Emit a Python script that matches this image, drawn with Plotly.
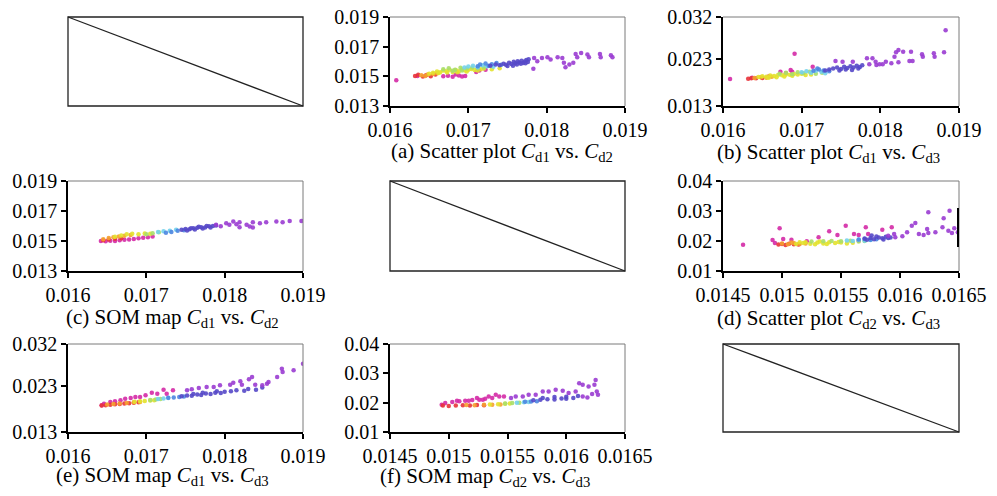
import plotly.graph_objects as go

# ---------------- DATA ----------------
GROUPS = ["magenta", "red", "orange", "yellow", "green", "cyan", "blue", "violet", "purple"]

# (a) Scatter plot Cd1 vs Cd2
a_x = {
    "magenta": [0.01608, 0.01635, 0.01668, 0.01674, 0.01680, 0.01688, 0.01692, 0.01696, 0.01684, 0.01714, 0.01722, 0.01710],
    "red": [0.01632, 0.01636, 0.01642, 0.01646, 0.01652, 0.01658],
    "orange": [0.01640, 0.01648, 0.01655, 0.01660, 0.01645],
    "yellow": [0.01650, 0.01655, 0.01660, 0.01664, 0.01668, 0.01672, 0.01676, 0.01680, 0.01684, 0.01688, 0.01692, 0.01696,
               0.01700, 0.01704, 0.01708, 0.01712, 0.01716, 0.01720, 0.01662, 0.01673, 0.01686, 0.01698, 0.01730, 0.01740],
    "green": [0.01668, 0.01675, 0.01683, 0.01690, 0.01698, 0.01705, 0.01712, 0.01720, 0.01680, 0.01692],
    "cyan": [0.01700, 0.01706, 0.01712, 0.01718, 0.01724, 0.01732, 0.01695],
    "blue": [0.01715, 0.01722, 0.01730, 0.01736, 0.01742, 0.01712, 0.01726],
    "violet": [0.01740, 0.01745, 0.01748, 0.01752, 0.01755, 0.01758, 0.01760, 0.01763, 0.01765, 0.01768, 0.01770, 0.01772,
               0.01774, 0.01776, 0.01750, 0.01757, 0.01762, 0.01767, 0.01773, 0.01735, 0.01728, 0.01777],
    "purple": [0.01784, 0.01788, 0.01794, 0.01801, 0.01805, 0.01814, 0.01820, 0.01822, 0.01824, 0.01829, 0.01834, 0.01837,
               0.01839, 0.01844, 0.01852, 0.01854, 0.01868, 0.01869, 0.01882, 0.01884, 0.01783],
}
a_y = {
    "magenta": [0.01473, 0.01502, 0.01500, 0.01504, 0.01498, 0.01505, 0.01499, 0.01503, 0.01512, 0.01540, 0.01545, 0.01530],
    "red": [0.01503, 0.01510, 0.01499, 0.01508, 0.01500, 0.01512],
    "orange": [0.01508, 0.01512, 0.01515, 0.01520, 0.01502],
    "yellow": [0.01518, 0.01525, 0.01532, 0.01528, 0.01540, 0.01535, 0.01545, 0.01530, 0.01542, 0.01535, 0.01548, 0.01540,
               0.01545, 0.01550, 0.01542, 0.01540, 0.01548, 0.01552, 0.01522, 0.01526, 0.01528, 0.01532, 0.01548, 0.01555],
    "green": [0.01548, 0.01555, 0.01545, 0.01558, 0.01552, 0.01560, 0.01555, 0.01562, 0.01538, 0.01540],
    "cyan": [0.01566, 0.01572, 0.01562, 0.01575, 0.01568, 0.01565, 0.01560],
    "blue": [0.01580, 0.01586, 0.01582, 0.01590, 0.01578, 0.01568, 0.01572],
    "violet": [0.01575, 0.01585, 0.01578, 0.01592, 0.01583, 0.01598, 0.01588, 0.01602, 0.01594, 0.01605, 0.01590, 0.01600,
               0.01610, 0.01596, 0.01570, 0.01572, 0.01580, 0.01585, 0.01588, 0.01580, 0.01572, 0.01615],
    "purple": [0.01624, 0.01602, 0.01624, 0.01629, 0.01613, 0.01629, 0.01624, 0.01591, 0.01562, 0.01580, 0.01591, 0.01651,
               0.01629, 0.01657, 0.01647, 0.01629, 0.01651, 0.01629, 0.01642, 0.01629, 0.01551],
}

# (b) Scatter plot Cd1 vs Cd3
b_x = {
    "magenta": [0.01609, 0.01691, 0.01714, 0.01673, 0.01686, 0.01688, 0.01637],
    "red": [0.01632, 0.01636, 0.01642, 0.01650, 0.01658, 0.01680],
    "orange": [0.01640, 0.01648, 0.01655, 0.01662],
    "yellow": [0.01645, 0.01650, 0.01655, 0.01660, 0.01665, 0.01670, 0.01675, 0.01680, 0.01685, 0.01690, 0.01695, 0.01700,
               0.01658, 0.01668, 0.01678, 0.01688, 0.01705, 0.01712],
    "green": [0.01672, 0.01680, 0.01688, 0.01695, 0.01702, 0.01710, 0.01718, 0.01726],
    "cyan": [0.01700, 0.01706, 0.01712, 0.01718, 0.01725, 0.01730],
    "blue": [0.01715, 0.01722, 0.01728, 0.01735, 0.01720],
    "violet": [0.01740, 0.01745, 0.01750, 0.01754, 0.01758, 0.01762, 0.01766, 0.01770, 0.01774, 0.01777, 0.01748, 0.01756,
               0.01764, 0.01772, 0.01735, 0.01730],
    "purple": [0.01883, 0.01881, 0.01868, 0.01869, 0.01853, 0.01854, 0.01839, 0.01837, 0.01841, 0.01823, 0.01829, 0.01818,
               0.01820, 0.01823, 0.01814, 0.01807, 0.01803, 0.01790, 0.01783, 0.01794, 0.01795, 0.01799, 0.01786, 0.01765,
               0.01752, 0.01743],
}
b_y = {
    "magenta": [0.01876, 0.02417, 0.02139, 0.02033, 0.02068, 0.02033, 0.01905],
    "red": [0.01880, 0.01890, 0.01895, 0.01900, 0.01930, 0.02000],
    "orange": [0.01900, 0.01915, 0.01905, 0.01925],
    "yellow": [0.01920, 0.01935, 0.01925, 0.01950, 0.01940, 0.01960, 0.01955, 0.01975, 0.01965, 0.01985, 0.01970, 0.01990,
               0.01905, 0.01915, 0.01930, 0.01945, 0.01960, 0.01975],
    "green": [0.01990, 0.02010, 0.01980, 0.02020, 0.02000, 0.02030, 0.01990, 0.02010],
    "cyan": [0.02020, 0.02040, 0.02010, 0.02050, 0.02030, 0.02000],
    "blue": [0.02050, 0.02080, 0.02060, 0.02040, 0.02100],
    "violet": [0.02100, 0.02120, 0.02090, 0.02140, 0.02110, 0.02150, 0.02120, 0.02160, 0.02130, 0.02170, 0.02060, 0.02080,
               0.02070, 0.02100, 0.02080, 0.02060],
    "purple": [0.02915, 0.02446, 0.02424, 0.02353, 0.02403, 0.02353, 0.02460, 0.02260, 0.02260, 0.02496, 0.02460, 0.02353,
               0.02446, 0.02232, 0.02211, 0.02246, 0.02190, 0.02318, 0.02318, 0.02246, 0.02175, 0.02190, 0.02190, 0.02246,
               0.02246, 0.02261],
}

# (c) SOM map Cd1 vs Cd2
c_x = {
    "magenta": [0.01642, 0.01648, 0.01654, 0.01660, 0.01666, 0.01672, 0.01678, 0.01684, 0.01690, 0.01696, 0.01702, 0.01708],
    "red": [0.01645, 0.01652, 0.01660, 0.01668],
    "orange": [0.01645, 0.01652, 0.01658, 0.01665, 0.01672, 0.01680],
    "yellow": [0.01660, 0.01668, 0.01675, 0.01682, 0.01690, 0.01698, 0.01705],
    "green": [0.01700, 0.01708, 0.01716],
    "cyan": [0.01715, 0.01722, 0.01730, 0.01738],
    "blue": [0.01725, 0.01732, 0.01740, 0.01748],
    "violet": [0.01745, 0.01750, 0.01755, 0.01760, 0.01765, 0.01770, 0.01775, 0.01780, 0.01785, 0.01789, 0.01752, 0.01762,
               0.01772, 0.01782, 0.01757, 0.01767, 0.01777],
    "purple": [0.01789, 0.01802, 0.01806, 0.01811, 0.01815, 0.01819, 0.01828, 0.01832, 0.01836, 0.01845, 0.01853, 0.01866,
               0.01874, 0.01883, 0.01898, 0.01836, 0.01819, 0.01795],
}
c_y = {
    "magenta": [0.01500, 0.01498, 0.01502, 0.01500, 0.01505, 0.01508, 0.01510, 0.01514, 0.01518, 0.01522, 0.01525, 0.01530],
    "red": [0.01505, 0.01510, 0.01515, 0.01518],
    "orange": [0.01512, 0.01520, 0.01525, 0.01530, 0.01535, 0.01540],
    "yellow": [0.01528, 0.01536, 0.01545, 0.01548, 0.01545, 0.01550, 0.01548],
    "green": [0.01545, 0.01552, 0.01558],
    "cyan": [0.01560, 0.01565, 0.01568, 0.01575],
    "blue": [0.01555, 0.01560, 0.01568, 0.01572],
    "violet": [0.01575, 0.01580, 0.01578, 0.01585, 0.01588, 0.01592, 0.01590, 0.01598, 0.01600, 0.01604, 0.01570, 0.01576,
               0.01584, 0.01590, 0.01585, 0.01595, 0.01600],
    "purple": [0.01608, 0.01619, 0.01608, 0.01630, 0.01612, 0.01625, 0.01608, 0.01597, 0.01625, 0.01619, 0.01625, 0.01630,
               0.01625, 0.01634, 0.01634, 0.01590, 0.01592, 0.01598],
}

# (d) Scatter plot Cd2 vs Cd3
d_x = {
    "magenta": [0.01467, 0.01498, 0.01492, 0.01494, 0.01501, 0.01508, 0.01521, 0.01531, 0.01540, 0.01547, 0.01554, 0.01561,
                0.01565, 0.01571, 0.01573, 0.01565, 0.01585, 0.01593],
    "red": [0.01497, 0.01500, 0.01503, 0.01506, 0.01510, 0.01514],
    "orange": [0.01500, 0.01505, 0.01510, 0.01515, 0.01520, 0.01508],
    "yellow": [0.01512, 0.01518, 0.01524, 0.01530, 0.01535, 0.01540, 0.01545, 0.01520, 0.01528, 0.01538, 0.01550, 0.01555,
               0.01515, 0.01532, 0.01548, 0.01560],
    "green": [0.01525, 0.01535, 0.01542, 0.01550, 0.01558, 0.01565, 0.01570],
    "cyan": [0.01555, 0.01560, 0.01565, 0.01570, 0.01575],
    "blue": [0.01565, 0.01570, 0.01575, 0.01580],
    "violet": [0.01570, 0.01575, 0.01578, 0.01582, 0.01585, 0.01588, 0.01590, 0.01580, 0.01586, 0.01572, 0.01592, 0.01576],
    "purple": [0.01595, 0.01596, 0.01602, 0.01606, 0.01610, 0.01613, 0.01616, 0.01620, 0.01623, 0.01624, 0.01624, 0.01630,
               0.01636, 0.01637, 0.01641, 0.01642, 0.01644, 0.01646, 0.01649, 0.01590],
}
d_y = {
    "magenta": [0.01878, 0.02422, 0.02033, 0.01933, 0.02067, 0.02044, 0.01989, 0.02122, 0.02322, 0.02200, 0.02511, 0.02233,
                0.02200, 0.02456, 0.02233, 0.02011, 0.02378, 0.02456],
    "red": [0.01880, 0.01900, 0.01870, 0.01910, 0.01890, 0.01880],
    "orange": [0.01920, 0.01890, 0.01930, 0.01900, 0.01920, 0.01950],
    "yellow": [0.01900, 0.01930, 0.01910, 0.01950, 0.01920, 0.01960, 0.01930, 0.01960, 0.01890, 0.01900, 0.01950, 0.01920,
               0.01960, 0.01980, 0.01970, 0.01940],
    "green": [0.01980, 0.01990, 0.02000, 0.01990, 0.02010, 0.01980, 0.02000],
    "cyan": [0.02020, 0.02000, 0.02040, 0.02010, 0.02030],
    "blue": [0.02050, 0.02070, 0.02040, 0.02060],
    "violet": [0.02080, 0.02100, 0.02060, 0.02120, 0.02090, 0.02140, 0.02100, 0.02150, 0.02050, 0.02040, 0.02120, 0.02180],
    "purple": [0.02233, 0.02122, 0.02156, 0.02289, 0.02511, 0.02600, 0.02233, 0.02200, 0.02400, 0.02267, 0.02956, 0.02289,
               0.02456, 0.02756, 0.02344, 0.03011, 0.02267, 0.02422, 0.02289, 0.02178],
}

# (e) SOM map Cd1 vs Cd3
e_x = {
    "magenta": [0.01643, 0.01646, 0.01654, 0.01667, 0.01680, 0.01692, 0.01699, 0.01707, 0.01714, 0.01722, 0.01734, 0.01726,
                0.01660, 0.01673, 0.01686],
    "red": [0.01643, 0.01648, 0.01654, 0.01660, 0.01666, 0.01672, 0.01678, 0.01684, 0.01690],
    "orange": [0.01650, 0.01658, 0.01666, 0.01675, 0.01684, 0.01692],
    "yellow": [0.01685, 0.01692, 0.01698, 0.01705, 0.01710],
    "green": [0.01705, 0.01712, 0.01718],
    "cyan": [0.01715, 0.01722, 0.01728],
    "blue": [0.01728, 0.01735, 0.01742, 0.01748],
    "violet": [0.01745, 0.01752, 0.01758, 0.01765, 0.01770, 0.01776, 0.01782, 0.01788, 0.01795, 0.01800, 0.01808, 0.01815,
               0.01760, 0.01772, 0.01790, 0.01825, 0.01830, 0.01840, 0.01848],
    "purple": [0.01752, 0.01758, 0.01767, 0.01777, 0.01786, 0.01794, 0.01807, 0.01811, 0.01820, 0.01822, 0.01831, 0.01835,
               0.01839, 0.01848, 0.01854, 0.01856, 0.01867, 0.01873, 0.01874, 0.01888, 0.01900],
}
e_y = {
    "magenta": [0.01876, 0.01912, 0.01948, 0.01984, 0.02034, 0.02056, 0.02092, 0.02149, 0.02128, 0.02214, 0.02200, 0.02128,
                0.01962, 0.02020, 0.02056],
    "red": [0.01870, 0.01880, 0.01890, 0.01900, 0.01905, 0.01915, 0.01920, 0.01930, 0.01940],
    "orange": [0.01895, 0.01905, 0.01915, 0.01925, 0.01940, 0.01950],
    "yellow": [0.01955, 0.01962, 0.01970, 0.01978, 0.01985],
    "green": [0.01990, 0.02000, 0.02010],
    "cyan": [0.02015, 0.02025, 0.02035],
    "blue": [0.02040, 0.02045, 0.02055, 0.02065],
    "violet": [0.02070, 0.02090, 0.02080, 0.02110, 0.02100, 0.02130, 0.02120, 0.02150, 0.02140, 0.02170, 0.02180, 0.02200,
               0.02120, 0.02150, 0.02180, 0.02190, 0.02230, 0.02210, 0.02260],
    "purple": [0.02200, 0.02221, 0.02250, 0.02272, 0.02272, 0.02308, 0.02322, 0.02365, 0.02394, 0.02322, 0.02437, 0.02487,
               0.02322, 0.02308, 0.02344, 0.02380, 0.02487, 0.02667, 0.02595, 0.02631, 0.02775],
}

# (f) SOM map Cd2 vs Cd3
f_x = {
    "magenta": [0.01494, 0.01497, 0.01503, 0.01509, 0.01514, 0.01520, 0.01526, 0.01531, 0.01537, 0.01543, 0.01507, 0.01517,
                0.01524, 0.01529, 0.01534, 0.01540, 0.01547],
    "red": [0.01495, 0.01500, 0.01506, 0.01512, 0.01518, 0.01524, 0.01530],
    "orange": [0.01515, 0.01522, 0.01530, 0.01537, 0.01544],
    "yellow": [0.01535, 0.01542, 0.01548, 0.01552],
    "green": [0.01548, 0.01554, 0.01560],
    "cyan": [0.01558, 0.01564, 0.01568],
    "blue": [0.01565, 0.01570, 0.01575],
    "violet": [0.01572, 0.01578, 0.01584, 0.01590, 0.01596, 0.01600, 0.01606, 0.01580, 0.01590, 0.01600, 0.01610],
    "purple": [0.01553, 0.01557, 0.01563, 0.01568, 0.01574, 0.01580, 0.01585, 0.01591, 0.01597, 0.01602, 0.01608, 0.01611,
               0.01614, 0.01619, 0.01624, 0.01625, 0.01626, 0.01627, 0.01622, 0.01614, 0.01618],
}
f_y = {
    "magenta": [0.01933, 0.01989, 0.02022, 0.02045, 0.02067, 0.02090, 0.02101, 0.02135, 0.02157, 0.02213, 0.02067, 0.02067,
                0.02157, 0.02101, 0.02213, 0.02270, 0.02213],
    "red": [0.01900, 0.01890, 0.01900, 0.01910, 0.01900, 0.01920, 0.01910],
    "orange": [0.01920, 0.01915, 0.01930, 0.01925, 0.01940],
    "yellow": [0.01940, 0.01950, 0.01960, 0.01970],
    "green": [0.01975, 0.01985, 0.01995],
    "cyan": [0.02000, 0.02010, 0.02020],
    "blue": [0.02030, 0.02040, 0.02050],
    "violet": [0.02080, 0.02100, 0.02120, 0.02110, 0.02140, 0.02130, 0.02160, 0.02160, 0.02190, 0.02200, 0.02230],
    "purple": [0.02157, 0.02213, 0.02213, 0.02270, 0.02270, 0.02382, 0.02382, 0.02438, 0.02404, 0.02326, 0.02382, 0.02663,
               0.02607, 0.02551, 0.02607, 0.02775, 0.02382, 0.02270, 0.02292, 0.02213, 0.02180],
}

# tick labels
TICKS_CD1 = [0.016, 0.017, 0.018, 0.019]
TICKS_CD2_Y = [0.013, 0.015, 0.017, 0.019]
TICKS_CD3_Y = [0.013, 0.023, 0.032]
TICKS_CD2_X = [0.0145, 0.015, 0.0155, 0.016, 0.0165]
TICKS_CD3_Y2 = [0.01, 0.02, 0.03, 0.04]

CAPTIONS = [
    "(a) Scatter plot <i>C</i><sub>d1</sub> vs. <i>C</i><sub>d2</sub>",
    "(b) Scatter plot <i>C</i><sub>d1</sub> vs. <i>C</i><sub>d3</sub>",
    "(c) SOM map <i>C</i><sub>d1</sub> vs. <i>C</i><sub>d2</sub>",
    "(d) Scatter plot <i>C</i><sub>d2</sub> vs. <i>C</i><sub>d3</sub>",
    "(e) SOM map <i>C</i><sub>d1</sub> vs. <i>C</i><sub>d3</sub>",
    "(f) SOM map <i>C</i><sub>d2</sub> vs. <i>C</i><sub>d3</sub>",
]

# ---------------- STYLE / LAYOUT ----------------
COLORS = {
    "magenta": "#d42aa6", "red": "#e8333a", "orange": "#f5a030", "yellow": "#e3e22e",
    "green": "#a9de6a", "cyan": "#74d2ec", "blue": "#4c86e0", "violet": "#5548c8", "purple": "#9a3cd2",
}
W, H = 997, 496
FONT = "Liberation Serif"

COLS = [(68, 303), (390, 625), (723, 959)]
ROWS = [(17, 106), (181, 271), (344, 432)]

panels = [
    (a_x, a_y, 1, 0, [0.016, 0.019], [0.013, 0.019], TICKS_CD1, TICKS_CD2_Y, 0, (502, 152)),
    (b_x, b_y, 2, 0, [0.016, 0.019], [0.013, 0.032], TICKS_CD1, TICKS_CD3_Y, 1, (828, 153)),
    (c_x, c_y, 0, 1, [0.016, 0.019], [0.013, 0.019], TICKS_CD1, TICKS_CD2_Y, 2, (172, 318)),
    (d_x, d_y, 2, 1, [0.0145, 0.0165], [0.01, 0.04], TICKS_CD2_X, TICKS_CD3_Y2, 3, (828, 319)),
    (e_x, e_y, 0, 2, [0.016, 0.019], [0.013, 0.032], TICKS_CD1, TICKS_CD3_Y, 4, (162, 476)),
    (f_x, f_y, 1, 2, [0.0145, 0.0165], [0.01, 0.04], TICKS_CD2_X, TICKS_CD3_Y2, 5, (485, 477)),
]
EMPTY = [(0, 0), (1, 1), (2, 2)]


def px_x(v):
    return v / W


def px_y(v):
    return 1 - v / H


def fmt(v):
    return ("%.4f" % v).rstrip("0")


fig = go.Figure()
shapes = []
annotations = []
layout_axes = {}

for i, (dx, dy, col, row, xr, yr, xt, yt, ci, (cx, cy)) in enumerate(panels, start=1):
    xa = "x" if i == 1 else "x%d" % i
    ya = "y" if i == 1 else "y%d" % i
    l, r = COLS[col]
    t, b = ROWS[row]
    for g in GROUPS:
        fig.add_trace(go.Scatter(
            x=dx[g], y=dy[g], mode="markers", xaxis=xa, yaxis=ya,
            marker=dict(size=4.5, color=COLORS[g], opacity=0.9, line=dict(width=0)),
            showlegend=False, hoverinfo="skip"))
    common = dict(showgrid=False, zeroline=False, showline=True, linecolor="black", linewidth=1.5,
                  ticks="outside", ticklen=5, tickwidth=1.5, tickcolor="black",
                  tickfont=dict(family=FONT, size=20, color="black"), automargin=False)
    layout_axes["xaxis" if i == 1 else "xaxis%d" % i] = dict(
        common, domain=[px_x(l), px_x(r)], range=xr, anchor=ya,
        tickvals=xt, ticktext=[fmt(v) for v in xt])
    layout_axes["yaxis" if i == 1 else "yaxis%d" % i] = dict(
        common, domain=[px_y(b), px_y(t)], range=yr, anchor=xa,
        tickvals=yt, ticktext=[fmt(v) for v in yt])
    shapes.append(dict(type="line", xref="paper", yref="paper", x0=px_x(l), x1=px_x(r), y0=px_y(t), y1=px_y(t),
                       line=dict(color="#7a7a7a", width=1)))
    shapes.append(dict(type="line", xref="paper", yref="paper", x0=px_x(r), x1=px_x(r), y0=px_y(t), y1=px_y(b),
                       line=dict(color="#7a7a7a", width=1)))
    annotations.append(dict(text=CAPTIONS[ci], x=px_x(cx), y=px_y(cy), xref="paper", yref="paper",
                            xanchor="center", yanchor="middle", showarrow=False,
                            font=dict(family=FONT, size=21, color="black")))
    if ci == 3:
        shapes.append(dict(type="line", xref=xa, yref=ya, x0=xr[1], x1=xr[1], y0=0.018, y1=0.031,
                           line=dict(color="black", width=4)))

for col, row in EMPTY:
    l, r = COLS[col]
    t, b = ROWS[row]
    shapes.append(dict(type="rect", xref="paper", yref="paper", x0=px_x(l), x1=px_x(r), y0=px_y(b), y1=px_y(t),
                       line=dict(color="#222222", width=1.3)))
    shapes.append(dict(type="line", xref="paper", yref="paper", x0=px_x(l), x1=px_x(r), y0=px_y(t), y1=px_y(b),
                       line=dict(color="#222222", width=1.3)))

fig.update_layout(width=W, height=H, margin=dict(l=0, r=0, t=0, b=0, autoexpand=False),
                  paper_bgcolor="white", plot_bgcolor="white",
                  shapes=shapes, annotations=annotations, **layout_axes)

fig.write_html("out.html")
